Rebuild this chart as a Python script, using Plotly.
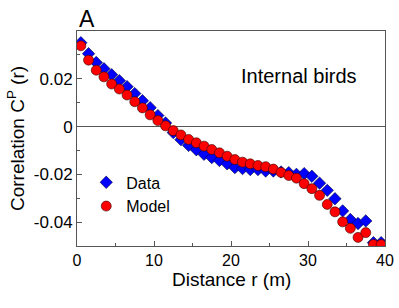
import plotly.graph_objects as go

r = [i + 0.5 for i in range(40)]

data_c = [0.0351, 0.0305, 0.0268, 0.0242, 0.0217, 0.0192, 0.0167, 0.0138, 0.0108, 0.0079,
          0.0046, 0.0015, -0.0025, -0.0055, -0.0079, -0.0097, -0.0116, -0.0130, -0.0142, -0.0156,
          -0.0172, -0.0176, -0.0180, -0.0180, -0.0186, -0.0186, -0.0190, -0.0193, -0.0200, -0.0197,
          -0.0208, -0.0237, -0.0267, -0.0302, -0.0353, -0.0389, -0.0406, -0.0395, -0.0486, -0.0486]

model_c = [0.0338, 0.0278, 0.0236, 0.0208, 0.0178, 0.0157, 0.0132, 0.0104, 0.0078, 0.0049,
           0.0025, 0.0003, -0.0017, -0.0035, -0.0054, -0.0068, -0.0082, -0.0096, -0.0110, -0.0124,
           -0.0138, -0.0149, -0.0156, -0.0163, -0.0168, -0.0178, -0.0192, -0.0205, -0.0216, -0.0239,
           -0.0260, -0.0288, -0.0326, -0.0357, -0.0399, -0.0426, -0.0464, -0.0444, -0.0494, -0.0494]

data_err = [0.0] * 39 + [0.0012]

x_ticks = [0, 10, 20, 30, 40]
y_ticks = [-0.04, -0.02, 0, 0.02]
y_tick_labels = ["-0.04", "-0.02", "0", "0.02"]

font = "Liberation Sans, Arial, sans-serif"

fig = go.Figure()
fig.add_trace(go.Scatter(
    x=r, y=data_c, mode="markers", name="Data",
    marker=dict(symbol="diamond", size=9.5, color="#0000ff", line=dict(color="#000033", width=0.6)),
    error_y=dict(type="data", array=data_err, color="#000000", thickness=0.8, width=3),
))
fig.add_trace(go.Scatter(
    x=r, y=model_c, mode="markers", name="Model",
    marker=dict(symbol="circle", size=10, color="#ff0000", line=dict(color="#330000", width=0.6)),
))

fig.update_layout(
    width=399, height=308,
    margin=dict(l=77, r=14, t=31, b=62),
    paper_bgcolor="white", plot_bgcolor="white",
    font=dict(family=font, color="black", size=16),
    showlegend=True,
    legend=dict(x=0.03, y=0.375, xanchor="left", yanchor="top", bgcolor="rgba(0,0,0,0)",
                font=dict(size=16), tracegroupgap=0),
    annotations=[
        dict(text="A", x=0.0, y=1.0, xref="paper", yref="paper", xanchor="left", yanchor="bottom",
             showarrow=False, font=dict(size=23), yshift=-3),
        dict(text="Internal birds", x=0.915, y=0.79, xref="paper", yref="paper", xanchor="right",
             yanchor="middle", showarrow=False, font=dict(size=20)),
        dict(text="Distance r (m)", x=0.5, y=-0.158, xref="paper", yref="paper", xanchor="center",
             yanchor="middle", showarrow=False, font=dict(size=19), borderpad=0),
    ],
)

fig.update_xaxes(
    range=[0, 40], tickvals=x_ticks, ticks="inside", ticklen=5, tickcolor="#555",
    showline=True, linecolor="#555", linewidth=1, mirror=True, showgrid=False, zeroline=False,
    automargin=False, tickfont=dict(size=16),
    minor=dict(tickvals=[5, 15, 25, 35], ticks="inside", ticklen=3, tickcolor="#555"),
)
fig.update_yaxes(
    range=[-0.05, 0.04], tickvals=y_ticks, ticktext=y_tick_labels, ticks="inside", ticklen=5,
    tickcolor="#555", showline=True, linecolor="#555", linewidth=1, mirror=True, showgrid=False,
    zeroline=True, zerolinecolor="#555", zerolinewidth=1,
    automargin=False, tickfont=dict(size=17),
    minor=dict(tickvals=[-0.05, -0.03, -0.01, 0.01, 0.03], ticks="inside", ticklen=3, tickcolor="#555"),
    title=dict(text="Correlation C<sup>P</sup> (r)", font=dict(size=19), standoff=4),
)

fig.write_html("out.html", post_script="document.body.style.margin='0';",
               config={"displayModeBar": False})
